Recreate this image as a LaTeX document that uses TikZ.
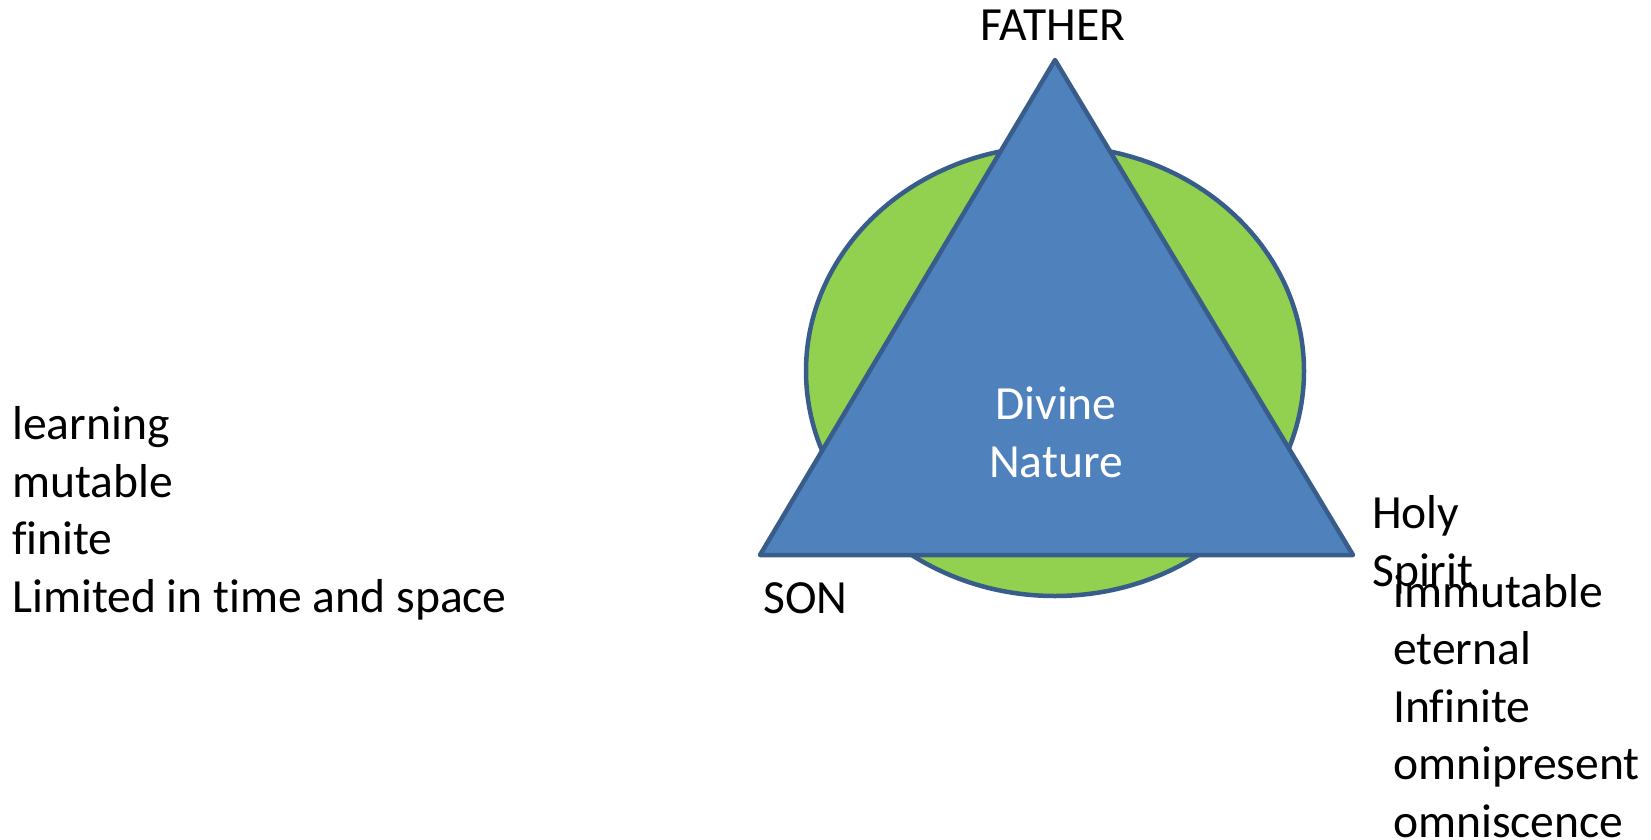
\documentclass[tikz,border=0pt]{standalone}
\usepackage{fontspec}
\setmainfont{Carlito}[Ligatures=NoCommon]
\definecolor{ringgreen}{HTML}{92D050}
\definecolor{trifill}{HTML}{4F81BD}
\definecolor{triline}{HTML}{385D8A}
\begin{document}
\begin{tikzpicture}[x=1pt,y=-1pt,
  shape line/.style={draw=triline, line width=4.5pt, line join=round},
  ring/.style={shape line, fill=ringgreen},
  trinity/.style={shape line, fill=trifill},
  % multi-line nodes sit on the baseline of their last line
  txt/.style={font=\fontsize{47.6}{57.4}\selectfont, inner sep=0pt, align=left, anchor=base west},
  centretxt/.style={txt, align=center, anchor=base}]
\useasboundingbox (0,0) rectangle (1651,840);

% the divine nature: ellipse behind the triangle of persons
\draw[ring] (1055,371) ellipse [x radius=249, y radius=225];
\coordinate (F) at (1055,60);
\coordinate (S) at (760,555);
\coordinate (H) at (1353,555);
\draw[trinity] (F) -- (S) -- (H) -- cycle;

\node[centretxt, text=white] (nature) at (1056,477) {Divine\\Nature};
\node[centretxt] (father) at (1053,41) {FATHER};
\node[txt] (son) at (763,613) {SON};
\node[txt] (spirit) at (1372,586) {Holy\\Spirit};
\node[txt] (divine) at (1393,837) {immutable\\eternal\\Infinite\\omnipresent\\omniscence};
\node[txt] (human) at (12,612) {learning\\mutable\\finite\\Limited in time and space};
\end{tikzpicture}
\end{document}
